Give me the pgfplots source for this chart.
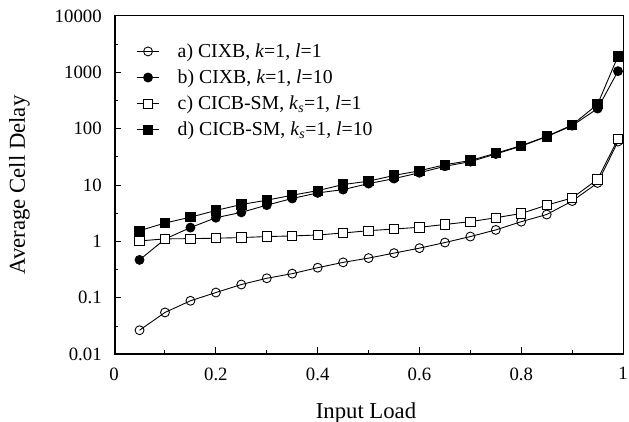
\documentclass[border=0pt]{standalone}
\usepackage{fontspec}
\setmainfont{Liberation Serif}
\usepackage{pgfplots}
\pgfplotsset{compat=1.18}

\begin{document}
\begin{tikzpicture}
\begin{axis}[
  name=ax,
  scale only axis, width=513bp, height=341bp,
  ymode=log,
  xmin=0, xmax=1, ymin=0.01, ymax=10000,
  xtick={0,0.2,0.4,0.6,0.8,1},
  xticklabels={0,0.2,0.4,0.6,0.8,1},
  minor xtick={0.1,0.3,0.5,0.7,0.9},
  ytick={0.01,0.1,1,10,100,1000,10000},
  yticklabels={0.01,0.1,1,10,100,1000,10000},
  minor ytick={0.0316,0.316,3.16,31.6,316,3162},
  xtick pos=left, ytick pos=left,
  tick align=inside,
  major tick length=7bp, minor tick length=4bp,
  tick style={black, line width=1bp},
  axis line style={line width=0.8bp},
  /pgf/number format/assume math mode=true,
  tick label style={font=\fontsize{19}{22}\selectfont},
  xticklabel style={yshift=-10bp},
  yticklabel style={xshift=-9bp},
  xlabel={Input Load}, ylabel={Average Cell Delay},
  label style={font=\fontsize{23}{27}\selectfont},
  xlabel style={at={(axis description cs:0.495,-0.173)}, anchor=center},
  ylabel style={at={(axis description cs:-0.186,0.5)}, anchor=center},
  legend style={draw=none, fill=none, at={(axis description cs:0.043,0.918)},
    anchor=north west, inner sep=0pt, nodes={inner sep=0pt},
    font=\fontsize{20}{24}\selectfont, row sep=11bp,
    /tikz/every odd column/.append style={column sep=18bp}},
  legend cell align=left,
  legend image code/.code={\draw[mark repeat=2,mark phase=2]
    plot coordinates {(0bp,0bp) (11.5bp,0bp) (23bp,0bp)};},
  every axis plot/.append style={black, line width=0.9bp, mark options={solid, line width=0.9bp}},
]
% a) CIXB, k=1, l=1
\addplot[mark=o, mark size=4.5bp, mark options={fill=white}] coordinates {
 (0.05,0.0266) (0.1,0.055) (0.15,0.0885) (0.2,0.124) (0.25,0.172) (0.3,0.222)
 (0.35,0.268) (0.4,0.342) (0.45,0.425) (0.5,0.506) (0.55,0.62) (0.6,0.76)
 (0.65,0.955) (0.7,1.22) (0.75,1.6) (0.8,2.24) (0.85,3.0) (0.9,5.2)
 (0.95,10.9) (0.99,59)
};
\addlegendentry{a)\ CIXB, \textit{k}=1, \textit{l}=1}
% b) CIXB, k=1, l=10
\addplot[mark=*, mark size=4.5bp, mark options={fill=black}] coordinates {
 (0.05,0.47) (0.1,1.1) (0.15,1.76) (0.2,2.63) (0.25,3.27) (0.3,4.4)
 (0.35,5.77) (0.4,7.25) (0.45,8.3) (0.5,10.6) (0.55,13) (0.6,16.5)
 (0.65,21.5) (0.7,26) (0.75,35.5) (0.8,49) (0.85,72) (0.9,113)
 (0.95,227) (0.99,1045)
};
\addlegendentry{b)\ CIXB, \textit{k}=1, \textit{l}=10}
% c) CICB-SM, ks=1, l=1
\addplot[mark=square*, mark size=4.7bp, mark options={fill=white}] coordinates {
 (0.05,1.02) (0.1,1.11) (0.15,1.12) (0.2,1.14) (0.25,1.17) (0.3,1.22)
 (0.35,1.25) (0.4,1.30) (0.45,1.41) (0.5,1.55) (0.55,1.66) (0.6,1.78)
 (0.65,2.0) (0.7,2.24) (0.75,2.63) (0.8,3.13) (0.85,4.4) (0.9,5.9)
 (0.95,12.6) (0.99,65.6)
};
\addlegendentry{c)\ CICB-SM, \textit{k}\textsubscript{\textit{s}}=1, \textit{l}=1}
% d) CICB-SM, ks=1, l=10
\addplot[mark=square*, mark size=4.7bp, mark options={fill=black}] coordinates {
 (0.05,1.55) (0.1,2.12) (0.15,2.69) (0.2,3.54) (0.25,4.52) (0.3,5.38)
 (0.35,6.6) (0.4,7.96) (0.45,10.2) (0.5,11.7) (0.55,14.8) (0.6,17.9)
 (0.65,22.9) (0.7,27.2) (0.75,36.7) (0.8,50) (0.85,73) (0.9,116)
 (0.95,271) (0.99,1920)
};
\addlegendentry{d)\ CICB-SM, \textit{k}\textsubscript{\textit{s}}=1, \textit{l}=10}
% heavy left and bottom spines
\draw[line width=3bp, line join=miter] (rel axis cs:0,1) -- (rel axis cs:0,0) -- (rel axis cs:1,0);
\end{axis}
\pgfresetboundingbox
\path ([shift={(-115bp,-68bp)}]ax.south west) rectangle ([shift={(6bp,16bp)}]ax.north east);
\end{tikzpicture}
\end{document}
